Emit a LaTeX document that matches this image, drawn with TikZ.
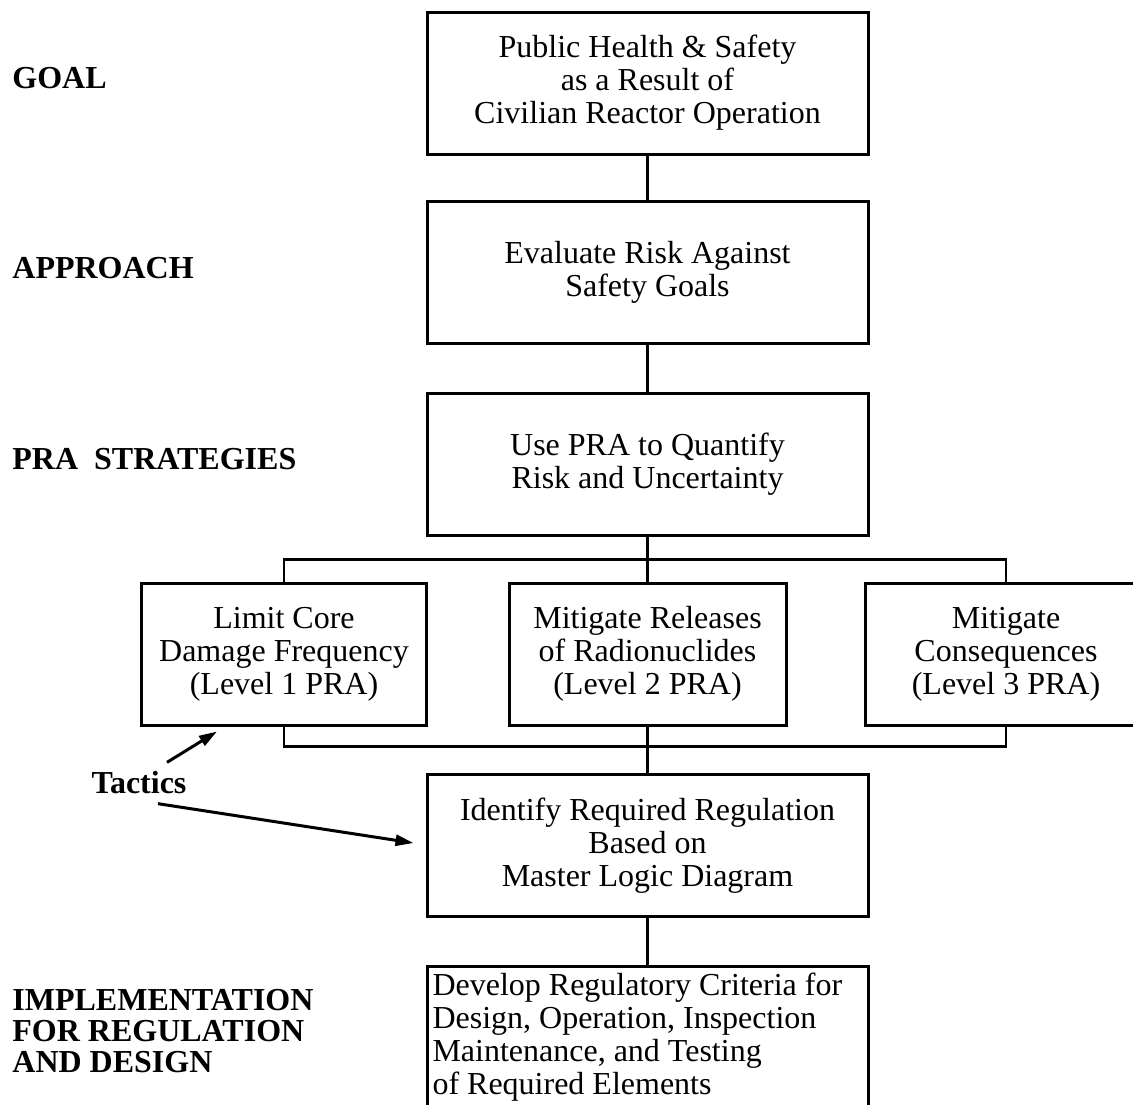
\documentclass[tikz,border=0pt]{standalone}
\usepackage{fontspec}
\setmainfont{Liberation Serif}
\usepackage{tikz}
\usetikzlibrary{arrows.meta}
\usetikzlibrary{positioning}

\tikzset{
	blk/.style={draw, line width=1.5pt, align=center, minimum height=71pt, inner sep=2pt, font=\fontsize{16}{16.5}\selectfont},
	wide/.style={blk, minimum width=220.5pt},
	lvl/.style={blk, minimum width=#1},
	tag/.style={anchor=west, inner sep=0pt, align=left, font=\fontsize{16}{15.5}\selectfont\bfseries},
	wire/.style={line width=1.3pt},
	tac/.style={line width=1.5pt, -{Triangle[length=9pt,width=5.5pt]}},
}

\begin{document}
\begin{tikzpicture}[x=0.5pt, y=-0.5pt]
		\useasboundingbox (0,0) rectangle (1133,1104);
		% row labels
		\node[tag] (lgoal) at (12,78) {GOAL}; %% goal
		\node[tag] (lappr) at (12,268) {APPROACH}; %% approach
		\node[tag] (lpra) at (12,459) {PRA~~STRATEGIES}; %% strategies
		\node[tag] (limpl) at (12,1031) {IMPLEMENTATION\\FOR REGULATION\\AND DESIGN}; %% implementation
		\node[tag, anchor=center] (tactics) at (139,783) {Tactics}; %% tactics
		% main column
		\node[wide] (goal) at (647.5,83) {Public Health \& Safety\\as a Result of\\Civilian Reactor Operation};
		\node[wide] (appr) at (647.5,272) {Evaluate Risk Against\\Safety Goals};
		\node[wide] (pra) at (647.5,464) {Use PRA to Quantify\\Risk and Uncertainty};
		\node[lvl=142.5pt] (lvlone) at (284,654) {Limit Core\\Damage Frequency\\(Level 1 PRA)};
		\node[lvl=138.5pt] (lvltwo) at (647.5,654) {Mitigate Releases\\of Radionuclides\\(Level 2 PRA)};
		\node[lvl=141pt] (lvlthree) at (1006,654) {Mitigate\\Consequences\\(Level 3 PRA)};
		\node[wide] (ident) at (647.5,845.5) {Identify Required Regulation\\Based on\\Master Logic Diagram};
		\node[wide, align=flush left, text width=215pt] (devel) at (647.5,1037) {Develop Regulatory Criteria for\\Design, Operation, Inspection\\Maintenance, and Testing\\of Required Elements};
		% connectors
		\draw[wire] (goal) -- (appr);
		\draw[wire] (appr) -- (pra);
		\draw[wire] (pra) -- (lvltwo);
		\draw[wire] (lvltwo) -- (ident);
		\draw[wire] (ident) -- (devel);
		\draw[wire] (lvlone.north) |- ([yshift=11pt]lvltwo.north) -| (lvlthree.north); %% upper bracket
		\draw[wire] (lvlone.south) |- ([yshift=-10pt]lvltwo.south) -| (lvlthree.south); %% lower bracket
		% tactics arrows
		\draw[tac] ([xshift=14pt,yshift=4.5pt]tactics.north) -- ([xshift=38.5pt,yshift=-2.5pt]lvlone.south west);
		\draw[tac] ([xshift=9.5pt,yshift=-4.5pt]tactics.south) -- ([xshift=-6pt,yshift=1.25pt]ident.west);
	\end{tikzpicture}
\end{document}
